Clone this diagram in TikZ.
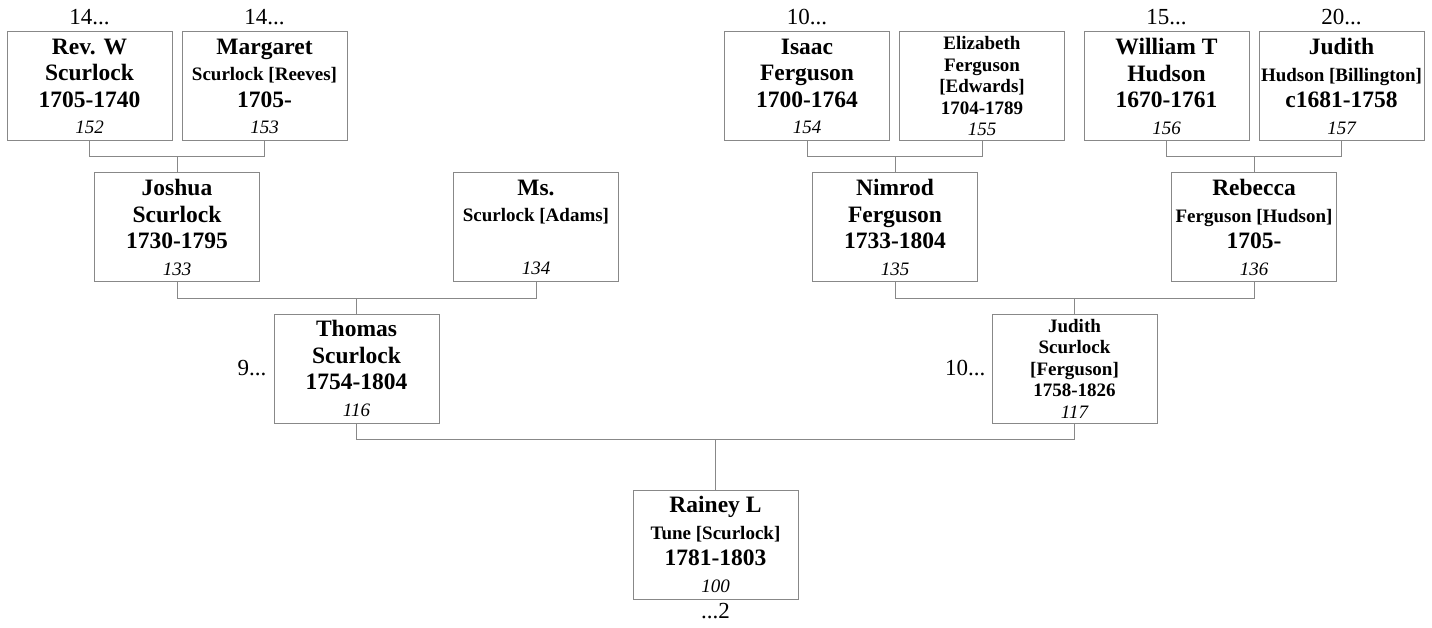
\documentclass[tikz,border=0pt]{standalone}
\usepackage{fontspec}
\setmainfont{Liberation Serif}
\usetikzlibrary{positioning}
\definecolor{linegray}{RGB}{136,136,136}
\newcommand\surn[1]{{\fontsize{19}{26.5}\selectfont #1}}
\newcommand\rid[1]{{\fontsize{19}{26.5}\selectfont\mdseries\itshape #1}}
\tikzset{
  person/.style={draw=linegray, line width=1pt, minimum width=165, minimum height=109,
    inner sep=0pt, align=center, font=\fontsize{23.5}{26.5}\selectfont\bfseries},
  longname/.style={person, font=\fontsize{19}{21.5}\selectfont\bfseries},
  link/.style={draw=linegray, line width=1pt},
  more/.style={inner sep=0pt, font=\fontsize{23}{26}\selectfont}
}
\begin{document}
\begin{tikzpicture}[x=1pt,y=-1pt]
\useasboundingbox (0,0) rectangle (1432,628);
% great-grandparents
\node[person] (revw) at (89.5,86.5) {Rev. W\\ Scurlock\\ 1705-1740\\ \rid{152}};
\node[person] (margaret) at (264.5,86.5) {Margaret\\ \surn{Scurlock [Reeves]}\\ 1705-\\ \rid{153}};
\node[person] (isaac) at (807,86.5) {Isaac\\ Ferguson\\ 1700-1764\\ \rid{154}};
\node[longname] (elizabeth) at (982,86.5) {Elizabeth\\ Ferguson\\ {[Edwards]}\\ 1704-1789\\ \rid{155}};
\node[person] (william) at (1166.5,86.5) {William T\\ Hudson\\ 1670-1761\\ \rid{156}};
\node[person] (judithh) at (1341.5,86.5) {Judith\\ \surn{Hudson [Billington]}\\ c1681-1758\\ \rid{157}};
% grandparents
\node[person] (joshua) at (177,227.5) {Joshua\\ Scurlock\\ 1730-1795\\ \rid{133}};
\node[person] (ms) at (536,227.5) {Ms.\\ \surn{Scurlock [Adams]}\\ \mbox{}\\ \rid{134}};
\node[person] (nimrod) at (895,227.5) {Nimrod\\ Ferguson\\ 1733-1804\\ \rid{135}};
\node[person] (rebecca) at (1254,227.5) {Rebecca\\ \surn{Ferguson [Hudson]}\\ 1705-\\ \rid{136}};
% parents
\node[person] (thomas) at (356.5,368.5) {Thomas\\ Scurlock\\ 1754-1804\\ \rid{116}};
\node[longname] (judiths) at (1074.5,368.5) {Judith\\ Scurlock\\ {[Ferguson]}\\ 1758-1826\\ \rid{117}};
\node[person] (rainey) at (715.5,544.5) {Rainey L\\ \surn{Tune [Scurlock]}\\ 1781-1803\\ \rid{100}};

% more generations
\node[more, above=6pt of revw] (revwmore) {14...};
\node[more, above=6pt of margaret] (margaretmore) {14...};
\node[more, above=6pt of isaac] (isaacmore) {10...};
\node[more, above=6pt of william] (williammore) {15...};
\node[more, above=6pt of judithh] (judithhmore) {20...};
\node[more, left=7pt of thomas] (thomasmore) {9...};
\node[more, left=6pt of judiths] (judithsmore) {10...};
\node[more, below=4pt of rainey] (raineymore) {...2};

% couples
\draw[link] (revw.south) -- ++(0,15) coordinate (m1) -| (margaret.south);
\draw[link] (joshua.north) -- (joshua.north |- m1);
\draw[link] (isaac.south) -- ++(0,15) coordinate (m2) -| (elizabeth.south);
\draw[link] (nimrod.north) -- (nimrod.north |- m2);
\draw[link] (william.south) -- ++(0,15) coordinate (m3) -| (judithh.south);
\draw[link] (rebecca.north) -- (rebecca.north |- m3);
\draw[link] (joshua.south) -- ++(0,16) coordinate (m4) -| (ms.south);
\draw[link] (thomas.north) -- (thomas.north |- m4);
\draw[link] (nimrod.south) -- ++(0,16) coordinate (m5) -| (rebecca.south);
\draw[link] (judiths.north) -- (judiths.north |- m5);
\draw[link] (thomas.south) -- ++(0,16) coordinate (m6) -| (judiths.south);
\draw[link] (rainey.north) -- (rainey.north |- m6);

\end{tikzpicture}
\end{document}
